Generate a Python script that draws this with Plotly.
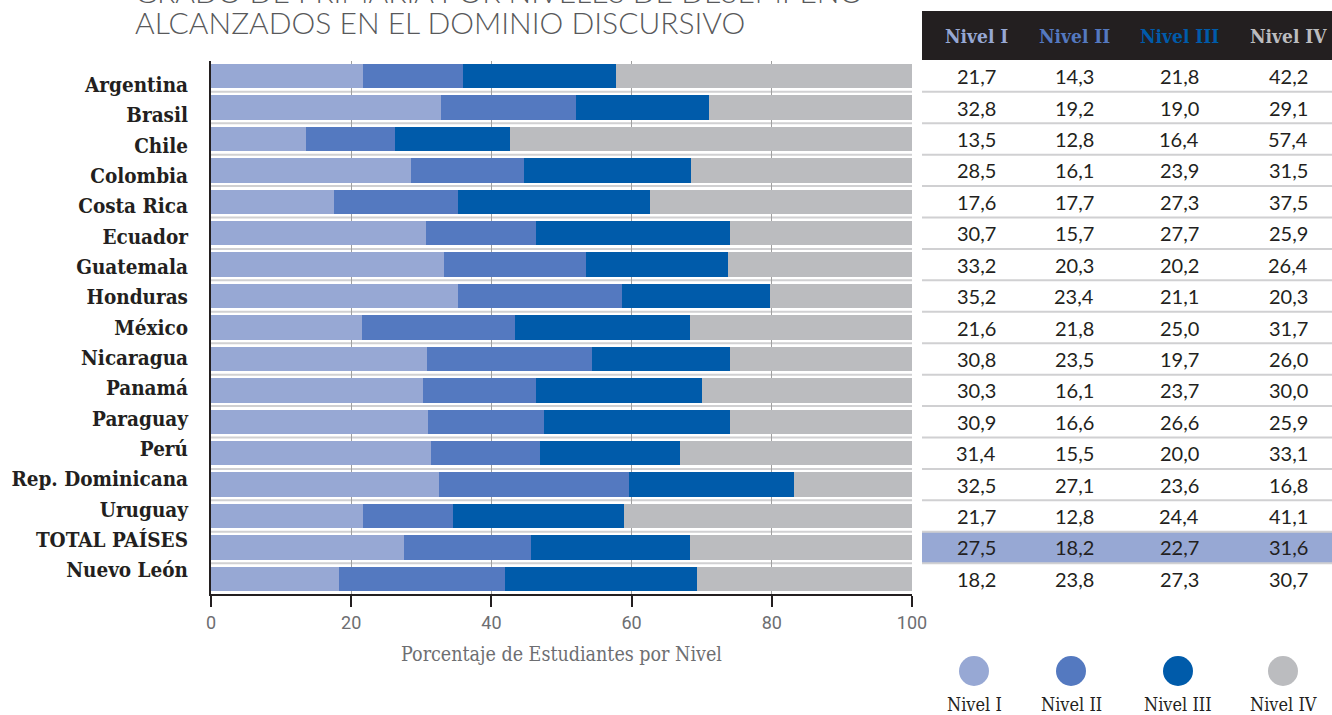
import plotly.graph_objects as go

# Países y porcentajes por nivel de desempeño
paises = ["Argentina", "Brasil", "Chile", "Colombia", "Costa Rica", "Ecuador",
          "Guatemala", "Honduras", "México", "Nicaragua", "Panamá", "Paraguay",
          "Perú", "Rep. Dominicana", "Uruguay", "TOTAL PAÍSES", "Nuevo León"]
nivel_1 = [21.7, 32.8, 13.5, 28.5, 17.6, 30.7, 33.2, 35.2, 21.6, 30.8, 30.3, 30.9,
           31.4, 32.5, 21.7, 27.5, 18.2]
nivel_2 = [14.3, 19.2, 12.8, 16.1, 17.7, 15.7, 20.3, 23.4, 21.8, 23.5, 16.1, 16.6,
           15.5, 27.1, 12.8, 18.2, 23.8]
nivel_3 = [21.8, 19.0, 16.4, 23.9, 27.3, 27.7, 20.2, 21.1, 25.0, 19.7, 23.7, 26.6,
           20.0, 23.6, 24.4, 22.7, 27.3]
nivel_4 = [42.2, 29.1, 57.4, 31.5, 37.5, 25.9, 26.4, 20.3, 31.7, 26.0, 30.0, 25.9,
           33.1, 16.8, 41.1, 31.6, 30.7]
niveles = ["Nivel I", "Nivel II", "Nivel III", "Nivel IV"]
x_ticks = [0, 20, 40, 60, 80, 100]

colores = ["#97a8d4", "#5479c0", "#005baa", "#bbbcbf"]
series = [nivel_1, nivel_2, nivel_3, nivel_4]

W, H = 1332, 715
L, R, T, B = 211, 912, 61, 594


def px(x):
    return (x - L) / (R - L)


def py(y):
    return (B - y) / (B - T)


fig = go.Figure()
for nombre, valores, color in zip(niveles, series, colores):
    fig.add_trace(go.Bar(
        y=paises, x=valores, name=nombre, orientation="h",
        marker=dict(color=color, line=dict(width=0)),
        width=0.78, showlegend=False,
    ))

# eje auxiliar que sólo lleva los nombres de los países
fig.add_trace(go.Scatter(
    x=[0] * len(paises), y=paises, yaxis="y2", mode="markers",
    marker=dict(opacity=0, size=1), hoverinfo="skip", showlegend=False,
))

shapes = []
annotations = []

# separadores de filas (zona de barras y tabla)
for i in range(len(paises) - 1):
    shapes.append(dict(type="line", xref="paper", yref="y", x0=0, x1=1,
                       y0=i + 0.5, y1=i + 0.5, layer="below",
                       line=dict(color="#d0d0d2", width=2)))
    shapes.append(dict(type="line", xref="paper", yref="y", x0=px(922), x1=px(1332),
                       y0=i + 0.5, y1=i + 0.5,
                       line=dict(color="#d0d0d2", width=2)))

# fila resaltada del total
idx_total = paises.index("TOTAL PAÍSES")
shapes.append(dict(type="rect", xref="paper", yref="y", x0=px(922), x1=px(1334),
                   y0=idx_total - 0.5, y1=idx_total + 0.5, layer="below",
                   fillcolor="#97a8d4", line=dict(width=0)))

# encabezado de la tabla
shapes.append(dict(type="rect", xref="paper", yref="paper", x0=px(922), x1=px(1334),
                   y0=py(60), y1=py(11), fillcolor="#231f20", line=dict(width=0)))

col_x = [976, 1074, 1179, 1288]
for nombre, color, cx in zip(niveles, colores, col_x):
    annotations.append(dict(x=px(cx), y=py(36), xref="paper", yref="paper",
                            xanchor="center", yanchor="middle",
                            text=f"<b>{nombre}</b>", showarrow=False,
                            font=dict(family="DejaVu Serif Condensed", size=19, color=color)))

# valores de la tabla
for valores, cx in zip(series, col_x):
    for pais, v in zip(paises, valores):
        annotations.append(dict(x=px(cx), y=pais, xref="paper", yref="y",
                                xanchor="center", yanchor="middle",
                                text=f"{v:.1f}".replace(".", ","), showarrow=False,
                                font=dict(family="Lato", size=20, color="#231f20")))

# leyenda con círculos
leg_x = [974, 1071, 1178, 1283]
for nombre, color, cx in zip(niveles, colores, leg_x):
    r = 15
    shapes.append(dict(type="circle", xref="paper", yref="paper",
                       x0=px(cx - r), x1=px(cx + r), y0=py(671 + r), y1=py(671 - r),
                       fillcolor=color, line=dict(width=0)))
    annotations.append(dict(x=px(cx), y=py(704), xref="paper", yref="paper",
                            xanchor="center", yanchor="middle",
                            text=nombre, showarrow=False,
                            font=dict(family="DejaVu Serif Condensed", size=18, color="#231f20")))

# título
for texto, yy in [("GRADO DE PRIMARIA POR NIVELES DE DESEMPEÑO", -9),
                  ("ALCANZADOS EN EL DOMINIO DISCURSIVO", 22)]:
    annotations.append(dict(x=px(133), y=py(yy), xref="paper", yref="paper",
                            xanchor="left", yanchor="middle", text=texto, showarrow=False,
                            font=dict(family="Lato", size=30, color="#58595b", weight=300)))

n = len(paises)
fig.update_layout(
    width=W, height=H,
    margin=dict(l=L, r=W - R, t=T, b=H - B),
    barmode="stack",
    plot_bgcolor="white", paper_bgcolor="white",
    shapes=shapes, annotations=annotations,
    xaxis=dict(range=[0, 100], tickvals=x_ticks, showgrid=True, gridcolor="#a0a0a0",
               gridwidth=1, layer="above traces", zeroline=False,
               showline=True, linecolor="#231f20", linewidth=2,
               ticks="outside", ticklen=11, tickcolor="#231f20", tickwidth=1.5,
               tickfont=dict(family="Liberation Sans Narrow, Roboto", size=18, color="#6d6e71"),
               title=dict(text="Porcentaje de Estudiantes por Nivel", standoff=16,
                          font=dict(family="DejaVu Serif Condensed", size=19.5, color="#6d6e71"))),
    yaxis=dict(categoryorder="array", categoryarray=paises, autorange=False,
               range=[n - 0.52, -0.48], showgrid=False, zeroline=False,
               showline=True, linecolor="#231f20", linewidth=2, layer="above traces",
               ticks="", showticklabels=False),
    yaxis2=dict(overlaying="y", side="left", categoryorder="array", categoryarray=paises,
                autorange=False, range=[n - 1 + 0.79, -0.79], showgrid=False,
                zeroline=False, showline=False, ticks="", ticklabelstandoff=22,
                tickfont=dict(family="DejaVu Serif Condensed", size=20.5, color="#231f20",
                              weight="bold")),
)

fig.write_html("out.html")
